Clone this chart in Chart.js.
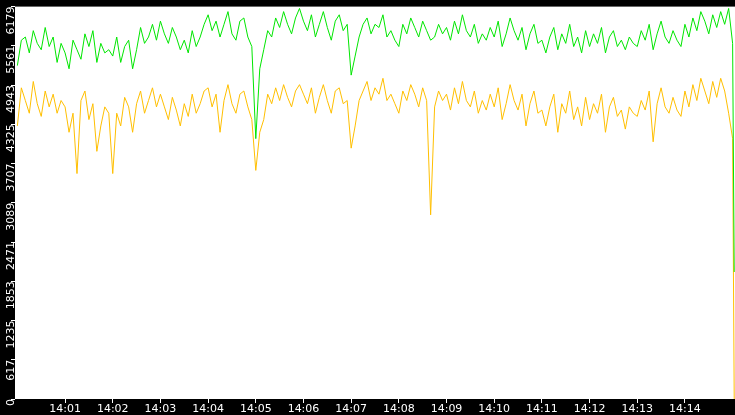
<!DOCTYPE html>
<html>
<head>
<meta charset="utf-8">
<script src="https://cdn.jsdelivr.net/npm/chart.js@4/dist/chart.umd.min.js"></script>
<style>
  body { margin: 0; background: #000; }
  #wrap { width: 735px; height: 415px; }
</style>
</head>
<body>
<div id="wrap"><canvas id="chart" width="735" height="415"></canvas></div>
<script>
// values every 5 seconds from 14:00:00
const totalSeries = [
  5250,5650,5700,5450,5800,5600,5500,5850,5550,5700,5300,5600,
  5450,5200,5650,5500,5350,5750,5550,5800,5300,5600,5450,5500,
  5400,5700,5300,5550,5650,5200,5500,5850,5600,5700,5900,5650,
  5950,5750,5600,5850,5700,5500,5650,5450,5800,5550,5700,5900,
  6050,5800,5950,5700,5900,6100,5750,5650,5950,6000,5700,5550,
  4100,5200,5500,5800,5700,6000,5850,6100,5900,5750,6000,6150,
  5950,5800,6050,5700,5900,6100,5850,5650,5950,6050,5800,5900,
  5100,5400,5700,5900,6000,5750,5900,5850,6050,5700,5800,5650,
  5550,5900,5750,6000,5850,5700,5950,5800,5650,5700,5900,5750,
  5850,5650,5950,5750,6050,5800,5700,5900,5600,5750,5650,5850,
  5700,5950,5550,5750,6000,5800,5650,5850,5500,5750,5900,5600,
  5650,5450,5700,5850,5500,5750,5600,5900,5550,5700,5450,5800,
  5550,5750,5600,5850,5450,5700,5800,5550,5650,5500,5700,5600,
  5550,5800,5650,5900,5500,5750,5950,5700,5600,5800,5650,5550,
  5900,5700,6000,5800,6100,5950,5750,6050,5850,6100,5900,6150,
  5600,2000
];
const partSeries = [
  4300,4900,4700,4500,5000,4650,4450,4850,4600,4800,4500,4700,
  4600,4200,4500,3550,4700,4850,4400,4650,3900,4300,4600,4500,
  3550,4500,4300,4750,4600,4200,4650,4850,4500,4700,4900,4600,
  4800,4600,4400,4750,4550,4300,4650,4450,4800,4500,4650,4850,
  4900,4600,4800,4200,4700,4950,4650,4500,4800,4850,4600,4400,
  3600,4200,4400,4800,4650,4900,4700,4950,4750,4600,4850,4950,
  4800,4650,4900,4500,4750,4950,4700,4500,4850,4900,4650,4700,
  3950,4300,4700,4850,5000,4700,4900,4800,5050,4700,4800,4650,
  4500,4850,4700,4950,4800,4600,4900,4700,2900,4600,4850,4700,
  4800,4550,4900,4650,5000,4700,4600,4850,4500,4700,4550,4800,
  4600,4900,4400,4650,4950,4700,4550,4800,4300,4650,4850,4500,
  4550,4300,4600,4800,4200,4650,4500,4850,4400,4600,4300,4750,
  4400,4650,4500,4800,4200,4600,4750,4450,4550,4250,4600,4500,
  4450,4700,4550,4850,4050,4650,4900,4600,4500,4750,4550,4450,
  4850,4600,4950,4700,5050,4850,4650,5000,4750,5050,4850,4500,
  4100,0
];
// sample times in seconds after 14:00
const sampleSeconds = totalSeries.map((_, i) => i < 181 ? i * 5 : 902);
const yTicks = [0, 617, 1235, 1853, 2471, 3089, 3707, 4325, 4943, 5561, 6179];
const xTickSeconds = [60, 120, 180, 240, 300, 360, 420, 480, 540, 600, 660, 720, 780, 840];

const bgPlugin = {
    id: "bg",
    beforeDraw(chart) {
        const { ctx, chartArea } = chart;
        ctx.save();
        ctx.fillStyle = "#000";
        ctx.fillRect(0, 0, chart.width, chart.height);
        ctx.fillStyle = "#fff";
        ctx.fillRect(chartArea.left, chartArea.top, chartArea.right - chartArea.left, chartArea.bottom - chartArea.top);
        ctx.restore();
    }
};

const toPoints = (vals) => vals.map((v, i) => ({ x: sampleSeconds[i], y: v }));

new Chart(document.getElementById("chart").getContext("2d"), {
    type: "line",
    data: {
        datasets: [
            { data: toPoints(totalSeries), borderColor: "#00e600", borderWidth: 1, pointRadius: 0, tension: 0 },
            { data: toPoints(partSeries), borderColor: "#ffbf00", borderWidth: 1, pointRadius: 0, tension: 0 }
        ]
    },
    options: {
        responsive: false,
        animation: false,
        devicePixelRatio: 1,
        layout: { padding: { top: 0, right: 0 } },
        plugins: { legend: { display: false }, tooltip: { enabled: false } },
        scales: {
            x: {
                type: "linear",
                min: -3,
                max: 903,
                afterBuildTicks: (axis) => { axis.ticks = xTickSeconds.map(v => ({ value: v })); },
                afterFit: (axis) => { axis.height = 16; },
                ticks: {
                    color: "#fff",
                    font: { family: "DejaVu Sans", size: 11 },
                    maxRotation: 0,
                    padding: 0,
                    callback: (v) => "14:" + String(Math.round(v / 60)).padStart(2, "0")
                },
                grid: { drawOnChartArea: false, color: "#fff", tickLength: 4 },
                border: { display: false }
            },
            y: {
                min: 0,
                max: 6179,
                afterBuildTicks: (axis) => { axis.ticks = yTicks.map(v => ({ value: v })); },
                afterFit: (axis) => { axis.width = 15; },
                ticks: {
                    color: "#fff",
                    font: { family: "DejaVu Sans", size: 11 },
                    minRotation: 90,
                    maxRotation: 90,
                    padding: 0,
                    callback: (v) => String(v)
                },
                grid: { drawOnChartArea: false, color: "#fff", tickLength: 4 },
                border: { display: false }
            }
        }
    },
    plugins: [bgPlugin]
});
</script>
</body>
</html>
